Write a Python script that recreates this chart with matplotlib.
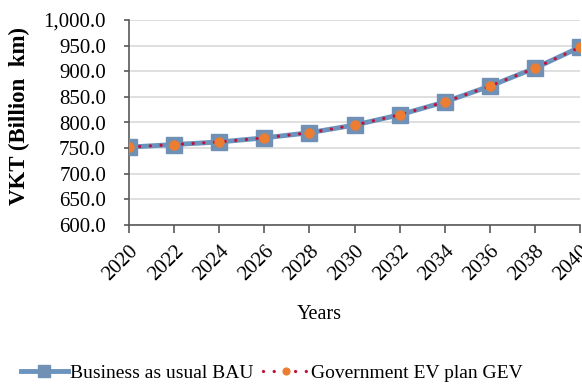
import matplotlib.pyplot as plt
from matplotlib.ticker import FuncFormatter

# Data
years = [2020, 2022, 2024, 2026, 2028, 2030, 2032, 2034, 2036, 2038, 2040]
bau = [752, 757, 762, 770, 780, 795, 815, 840, 871, 906, 947]
gev = [752, 757, 762, 770, 780, 795, 815, 840, 871, 906, 947]
y_ticks = [600, 650, 700, 750, 800, 850, 900, 950, 1000]

plt.rcParams['font.family'] = ['Liberation Serif', 'DejaVu Serif']

fig = plt.figure(figsize=(5.82, 3.86), dpi=100)
ax = fig.add_axes([129 / 582, 1 - 225 / 386, (580 - 129) / 582, 205 / 386])

ax.plot(years, bau, color='#6a93bd', lw=3.5, marker='s', ms=11,
        mfc='#7090b5', mec='#7090b5', label='Business as usual BAU', zorder=3)
ax.plot(years, gev, color='#c0143c', lw=2.4, ls=(0, (0.01, 3.2)),
        dash_capstyle='round', marker='o', ms=6.5, mfc='#ed7d31',
        mec='#ed7d31', label='Government EV plan GEV', zorder=4)

ax.set_xlim(2020, 2040)
ax.set_ylim(600, 1000)
ax.set_xticks(years)
ax.set_yticks(y_ticks)
ax.yaxis.set_major_formatter(FuncFormatter(lambda v, p: f'{v:,.1f}'))
ax.grid(axis='y', color='#d9d9d9', lw=1.2)
ax.set_axisbelow(True)

for s in ['top', 'right']:
    ax.spines[s].set_visible(False)
for s in ['left', 'bottom']:
    ax.spines[s].set_color('#595959')
    ax.spines[s].set_linewidth(1.2)

ax.tick_params(axis='both', labelsize=15, color='#595959', width=1.2)
ax.tick_params(axis='y', direction='out', length=3.5, pad=13)
ax.tick_params(axis='x', direction='out', length=6, pad=6)
plt.setp(ax.get_xticklabels(), rotation=45, ha='right', va='top',
         rotation_mode='anchor')

ax.set_ylabel('VKT (Billion  km)', fontsize=16.5, fontweight='bold')
ax.yaxis.set_label_coords((30 - 129) / 451, 0.53)
ax.set_xlabel('Years', fontsize=14.5)
ax.xaxis.set_label_coords((319 - 129) / 451, -(315 - 225) / 205)
ax.xaxis.label.set_va('center')

fig.legend(loc='center', bbox_to_anchor=(272 / 582, 1 - 373 / 386), ncol=2,
           frameon=False, fontsize=14, handlelength=2.4, columnspacing=0.5,
           handletextpad=0.1, markerscale=0.75)

fig.savefig('out.png', dpi=100)
